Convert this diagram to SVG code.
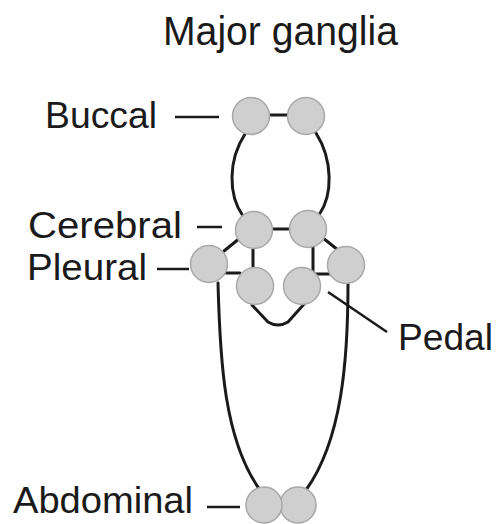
<svg xmlns="http://www.w3.org/2000/svg" width="497" height="524" viewBox="0 0 497 524">
<style>
.t{font-family:"Liberation Sans",Arial,sans-serif;fill:#1a1a1a}
.g{fill:#cfcfcf;stroke:#a8a8a8;stroke-width:1.5}
.c{fill:none;stroke:#1a1a1a;stroke-width:3;stroke-linecap:round;stroke-linejoin:round}
.l{fill:none;stroke:#1a1a1a;stroke-width:2.5}
</style>
<rect width="497" height="524" fill="#fff"/>
<text class="t" x="163" y="45" font-size="40" textLength="235" lengthAdjust="spacingAndGlyphs">Major ganglia</text>
<g id="connectors">
<line class="c" x1="262" y1="115" x2="296" y2="115"/>
<path class="c" d="M245,134 C228,160 228,195 243,216"/>
<path class="c" d="M316,133 C333,160 333,195 319,215"/>
<line class="c" x1="268" y1="229" x2="294" y2="229"/>
<line class="c" x1="240" y1="238" x2="224" y2="251"/>
<line class="c" x1="253" y1="246" x2="253" y2="270"/>
<line class="c" x1="226" y1="273" x2="240" y2="273"/>
<line class="c" x1="323" y1="238" x2="338" y2="250"/>
<line class="c" x1="313" y1="246" x2="313" y2="272"/>
<line class="c" x1="313" y1="274" x2="329" y2="274"/>
<path class="c" d="M252,305 L268,322 Q278,328 288,322 L305,303"/>
<path class="c" d="M218,283 C220,360 224,440 260,490"/>
<path class="c" d="M348,283 C348,360 342,440 306,490"/>
</g>
<g id="buccal">
<circle class="g" cx="251" cy="116" r="18.5"/>
<circle class="g" cx="306" cy="116" r="18.5"/>
<text class="t" x="45" y="128" font-size="36" textLength="112" lengthAdjust="spacingAndGlyphs">Buccal</text>
<line class="l" x1="175" y1="117" x2="219" y2="117"/>
</g>
<g id="cerebral">
<circle class="g" cx="254" cy="230" r="18.5"/>
<circle class="g" cx="308" cy="229" r="18.5"/>
<text class="t" x="28" y="238" font-size="36" textLength="154" lengthAdjust="spacingAndGlyphs">Cerebral</text>
<line class="l" x1="197" y1="227" x2="222" y2="227"/>
</g>
<g id="pleural">
<circle class="g" cx="209" cy="264" r="18.5"/>
<circle class="g" cx="346" cy="265" r="18.5"/>
<text class="t" x="27" y="280" font-size="36" textLength="120" lengthAdjust="spacingAndGlyphs">Pleural</text>
<line class="l" x1="157" y1="269" x2="189" y2="269"/>
</g>
<g id="pedal">
<circle class="g" cx="255" cy="286" r="18.5"/>
<circle class="g" cx="302" cy="286" r="18.5"/>
<line class="l" x1="328" y1="292" x2="387" y2="332"/>
<text class="t" x="398" y="350" font-size="36" textLength="95" lengthAdjust="spacingAndGlyphs">Pedal</text>
</g>
<g id="abdominal">
<circle class="g" cx="298" cy="505" r="18"/>
<circle class="g" cx="264" cy="505" r="18"/>
<text class="t" x="13" y="513" font-size="36" textLength="180" lengthAdjust="spacingAndGlyphs">Abdominal</text>
<line class="l" x1="207" y1="507" x2="240" y2="507"/>
</g>
</svg>
